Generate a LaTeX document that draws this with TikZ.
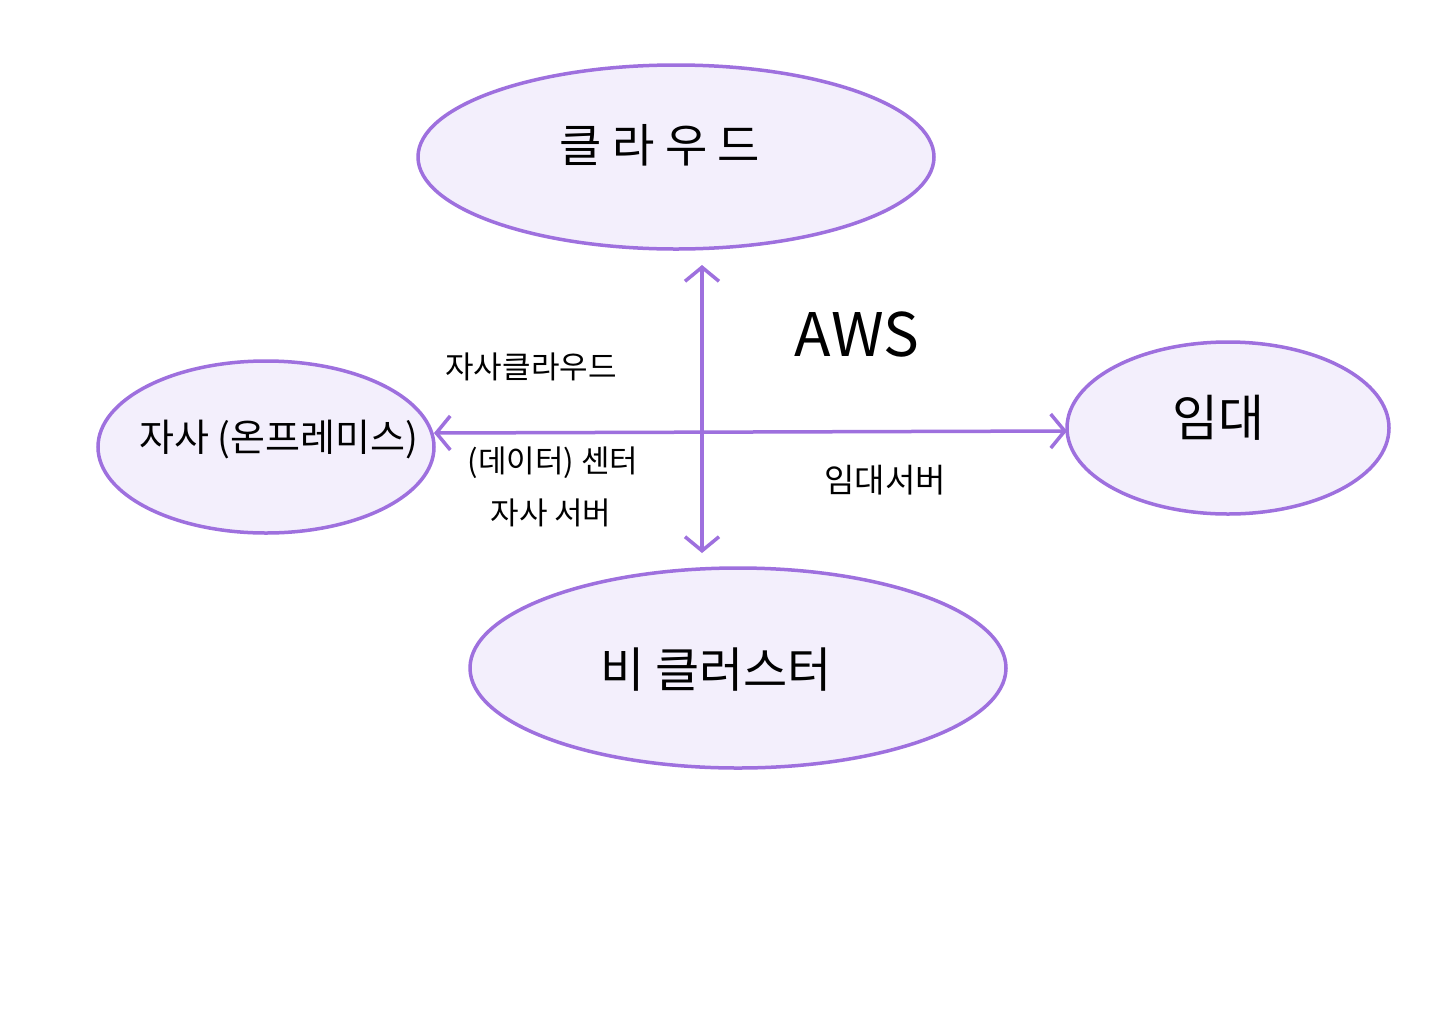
\documentclass[tikz,border=0pt]{standalone}
\usepackage{fontspec}
\newfontfamily\kr{Noto Sans CJK KR}
\usetikzlibrary{arrows.meta,shapes.geometric}
\definecolor{edge}{HTML}{9E70DE}
\definecolor{fillc}{HTML}{F3EFFC}
\tikzset{
  blob/.style={draw=edge, fill=fillc, line width=3.5pt, ellipse, inner sep=0pt, outer sep=0pt},
  conn/.style={draw=edge, line width=3.5pt, {Straight Barb[length=14pt,width=34pt,line width=3.5pt]}-{Straight Barb[length=14pt,width=34pt,line width=3.5pt]}},
  lbl/.style={font=\kr, text=black, inner sep=0pt}
}
\begin{document}
\begin{tikzpicture}[x=1pt,y=-1pt]
\useasboundingbox[fill=white] (0,0) rectangle (1440,1018);
% ellipses
\node[blob, minimum width=516pt, minimum height=184pt] (cloud) at (676,157) {};
\node[blob, minimum width=336pt, minimum height=172pt] (onprem) at (266,447) {};
\node[blob, minimum width=322pt, minimum height=172pt] (rent) at (1228,428) {};
\node[blob, minimum width=536pt, minimum height=200pt] (bcl) at (738,668) {};
% texts
\node[lbl, font=\kr\fontsize{46}{50}\selectfont] (cloudt) at (660,145) {클 라 우 드};
\node[lbl, font=\kr\fontsize{38}{42}\selectfont] (onpremt) at (279,440) {자사 (온프레미스)};
\node[lbl, font=\kr\fontsize{50}{54}\selectfont] (rentt) at (1218,418) {임대};
\node[lbl, font=\kr\fontsize{48}{52}\selectfont] (bclt) at (716,670) {비 클러스터};
\node[lbl, font=\kr\fontsize{60}{64}\selectfont] (aws) at (857,335) {AWS};
\node[lbl, font=\kr\fontsize{31}{35}\selectfont] (own) at (531,367) {자사클라우드};
\node[lbl, font=\kr\fontsize{31}{35}\selectfont] (dc) at (553,463) {(데이터) 센터};
\node[lbl, font=\kr\fontsize{31}{35}\selectfont] (srv) at (551,513) {자사 서버};
\node[lbl, font=\kr\fontsize{33}{37}\selectfont] (rsrv) at (885,480) {임대서버};
% connectors
\coordinate (hl) at (434,433);
\coordinate (hr) at (1067,431);
\draw[conn, shorten <=16pt, shorten >=15pt] ([xshift=26pt]cloud.south) -- ([xshift=-36pt]bcl.north);
\draw[conn] (hl) -- (hr);
\end{tikzpicture}
\end{document}
